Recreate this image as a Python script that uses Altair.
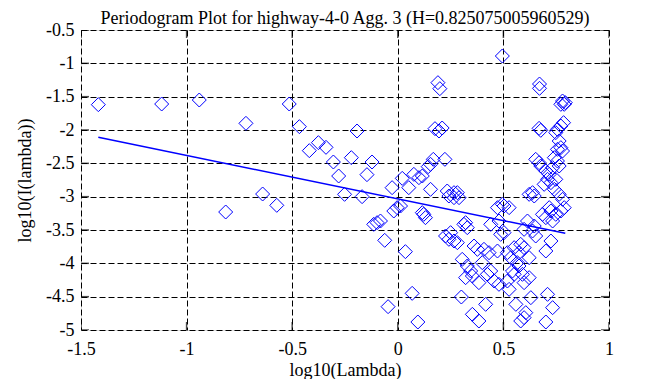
import altair as alt
import pandas as pd

# periodogram points (log10 lambda, log10 I(lambda))
px = [-1.418, -1.118, -0.94, -0.719, -0.514, -0.466, -0.376, -0.419, -0.34, -0.305,
      -0.64, -0.573, -0.815,
      0.495, 0.19, 0.199, 0.671, 0.671, 0.78, 0.793, 0.772, 0.788,
      -0.193, 0.176, 0.21, 0.195, 0.669, 0.677, 0.785, 0.772, 0.756, 0.748,
      -0.22, -0.122, -0.146, 0.168, 0.223, 0.144, 0.155,
      0.764, 0.772, 0.756, 0.78,
      0.653, 0.669, 0.677, 0.741, 0.756, 0.764, 0.733, 0.701, 0.717,
      0.021, 0.076, 0.1, 0.116, -0.28, -0.252, -0.169,
      -0.027, 0.052, 0.155, 0.234, 0.266, 0.29, 0.266, 0.282, 0.242,
      0.709, 0.748, 0.693, 0.725, 0.741, 0.638, 0.646, 0.622, 0.764, 0.78,
      -0.003, 0.013, -0.019, 0.116, 0.131, 0.123, -0.098, -0.082, -0.114,
      -0.062, 0.036, 0.321, 0.329, 0.313,
      0.226, 0.25, 0.266, 0.282, 0.242,
      0.472, 0.495, 0.527, 0.503, 0.44, 0.479, 0.503, 0.487,
      0.614, 0.646, 0.638, 0.653, 0.598,
      0.717, 0.725, 0.748, 0.772, 0.788, 0.733, 0.701, 0.685,
      0.725, 0.701,
      0.361, 0.377, 0.408, 0.432, 0.472, 0.519, 0.551, 0.582, 0.598, 0.574, 0.622, 0.535,
      0.4, 0.566, 0.574,
      0.305, 0.329, 0.345, 0.321, 0.353,
      0.424, 0.456, 0.479, 0.519, 0.551, 0.59, 0.622, 0.598, 0.543, 0.44, 0.384, 0.527,
      0.068, -0.046, 0.095, 0.301, 0.353, 0.384, 0.416, 0.559, 0.63, 0.709, 0.733,
      0.606, 0.582, 0.598, 0.701]
py = [-1.62, -1.61, -1.55, -1.90, -1.61, -1.95, -2.19, -2.31, -2.26, -2.48,
      -2.96, -3.13, -3.23,
      -0.89, -1.29, -1.38, -1.31, -1.375, -1.565, -1.59, -1.615, -1.615,
      -2.015, -1.98, -1.97, -2.015, -1.975, -2.005, -1.89, -1.94, -1.99, -2.04,
      -2.415, -2.48, -2.67, -2.44, -2.44, -2.55, -2.515,
      -2.165, -2.265, -2.29, -2.315,
      -2.44, -2.49, -2.54, -2.415, -2.465, -2.54, -2.565, -2.615, -2.665,
      -2.725, -2.665, -2.715, -2.69, -2.69, -2.965, -3.0,
      -2.865, -2.865, -2.89, -2.915, -2.94, -3.015, -3.015, -2.94, -2.99,
      -2.74, -2.74, -2.815, -2.79, -2.89, -2.94, -2.99, -2.965, -2.965, -3.04,
      -3.165, -3.14, -3.215, -3.24, -3.315, -3.265, -3.39, -3.365, -3.415,
      -3.655, -3.825, -3.39, -3.465, -3.415,
      -3.59, -3.54, -3.665, -3.69, -3.64,
      -3.165, -3.115, -3.165, -3.14, -3.415, -3.365, -3.54, -3.565,
      -3.365, -3.44, -3.515, -3.59, -3.49,
      -3.165, -3.215, -3.265, -3.215, -3.165, -3.365, -3.315, -3.265,
      -3.665, -3.815,
      -3.74, -3.79, -3.79, -3.84, -3.815, -3.84, -3.765, -3.715, -3.765, -3.84, -3.915, -3.915,
      -3.99, -3.99, -4.04,
      -3.94, -4.04, -4.115, -4.215, -4.19,
      -4.165, -4.265, -4.315, -4.265, -4.165, -4.165, -4.215, -4.29, -4.115, -4.115, -4.29, -4.39,
      -4.45, -4.65, -4.88, -4.505, -4.765, -4.865, -4.615, -4.615, -4.515, -4.465, -4.665,
      -4.74, -4.865, -4.815, -4.88]

# fitted line endpoints
fit_x = [-1.418, 0.793]
fit_y = [-2.11, -3.55]

x_ticks = [-1.5, -1, -0.5, 0, 0.5, 1]
y_ticks = [-5, -4.5, -4, -3.5, -3, -2.5, -2, -1.5, -1, -0.5]

FONT = "Liberation Serif"

pts = pd.DataFrame({"x": px, "y": py})
fit = pd.DataFrame({"x": fit_x, "y": fit_y})
xt = pd.DataFrame({"x": x_ticks})
yt = pd.DataFrame({"y": y_ticks})

xscale = alt.Scale(domain=[-1.5, 1], nice=False, zero=False)
yscale = alt.Scale(domain=[-5, -0.5], nice=False, zero=False)

common = dict(grid=True, gridDash=[6, 3], gridColor="black", gridOpacity=1, gridWidth=1,
              ticks=False, domain=False, labelOverlap=False, labelBound=False,
              labelFont=FONT, labelFontSize=18, labelColor="black",
              titleFont=FONT, titleFontSize=18, titleFontWeight="normal", titleColor="black",
              labelExpr="toString(datum.value)")

xaxis = alt.Axis(values=x_ticks, title="log10(Lambda)", labelPadding=10, titlePadding=3,
                 labelFlush=False, **common)
yaxis = alt.Axis(values=y_ticks, title="log10(I(lambda))", labelPadding=7, titlePadding=11,
                 **common)

X = alt.X("x:Q", scale=xscale, axis=xaxis)
Y = alt.Y("y:Q", scale=yscale, axis=yaxis)

points = alt.Chart(pts).mark_point(shape="diamond", size=196, filled=False,
                                   color="#0000ff", strokeWidth=1, opacity=1).encode(x=X, y=Y)

line = alt.Chart(fit).mark_line(color="#0000ff", strokeWidth=1.5).encode(x=X, y=Y)

tick_kw = dict(color="black", size=16, thickness=1.5, clip=True)
tick_top = alt.Chart(xt).mark_tick(orient="vertical", **tick_kw).encode(x=X, y=alt.value(0))
tick_bot = alt.Chart(xt).mark_tick(orient="vertical", **tick_kw).encode(x=X, y=alt.value(300))
tick_left = alt.Chart(yt).mark_tick(orient="horizontal", **tick_kw).encode(y=Y, x=alt.value(0))
tick_right = alt.Chart(yt).mark_tick(orient="horizontal", **tick_kw).encode(y=Y, x=alt.value(528))

chart = alt.layer(points, line, tick_top, tick_bot, tick_left, tick_right).properties(
    width=528, height=300,
    title=alt.TitleParams("Periodogram Plot for highway-4-0 Agg. 3 (H=0.825075005960529)",
                          font=FONT, fontSize=18, fontWeight="normal", color="black",
                          anchor="middle", offset=3, dy=10),
    autosize=alt.AutoSizeParams(type="none"),
    padding={"left": 73, "top": 22, "right": 40, "bottom": 49},
).configure_view(stroke="black", strokeWidth=2.5).configure(background="white")

chart.save("out.html", embed_options={"renderer": "svg", "actions": False})
